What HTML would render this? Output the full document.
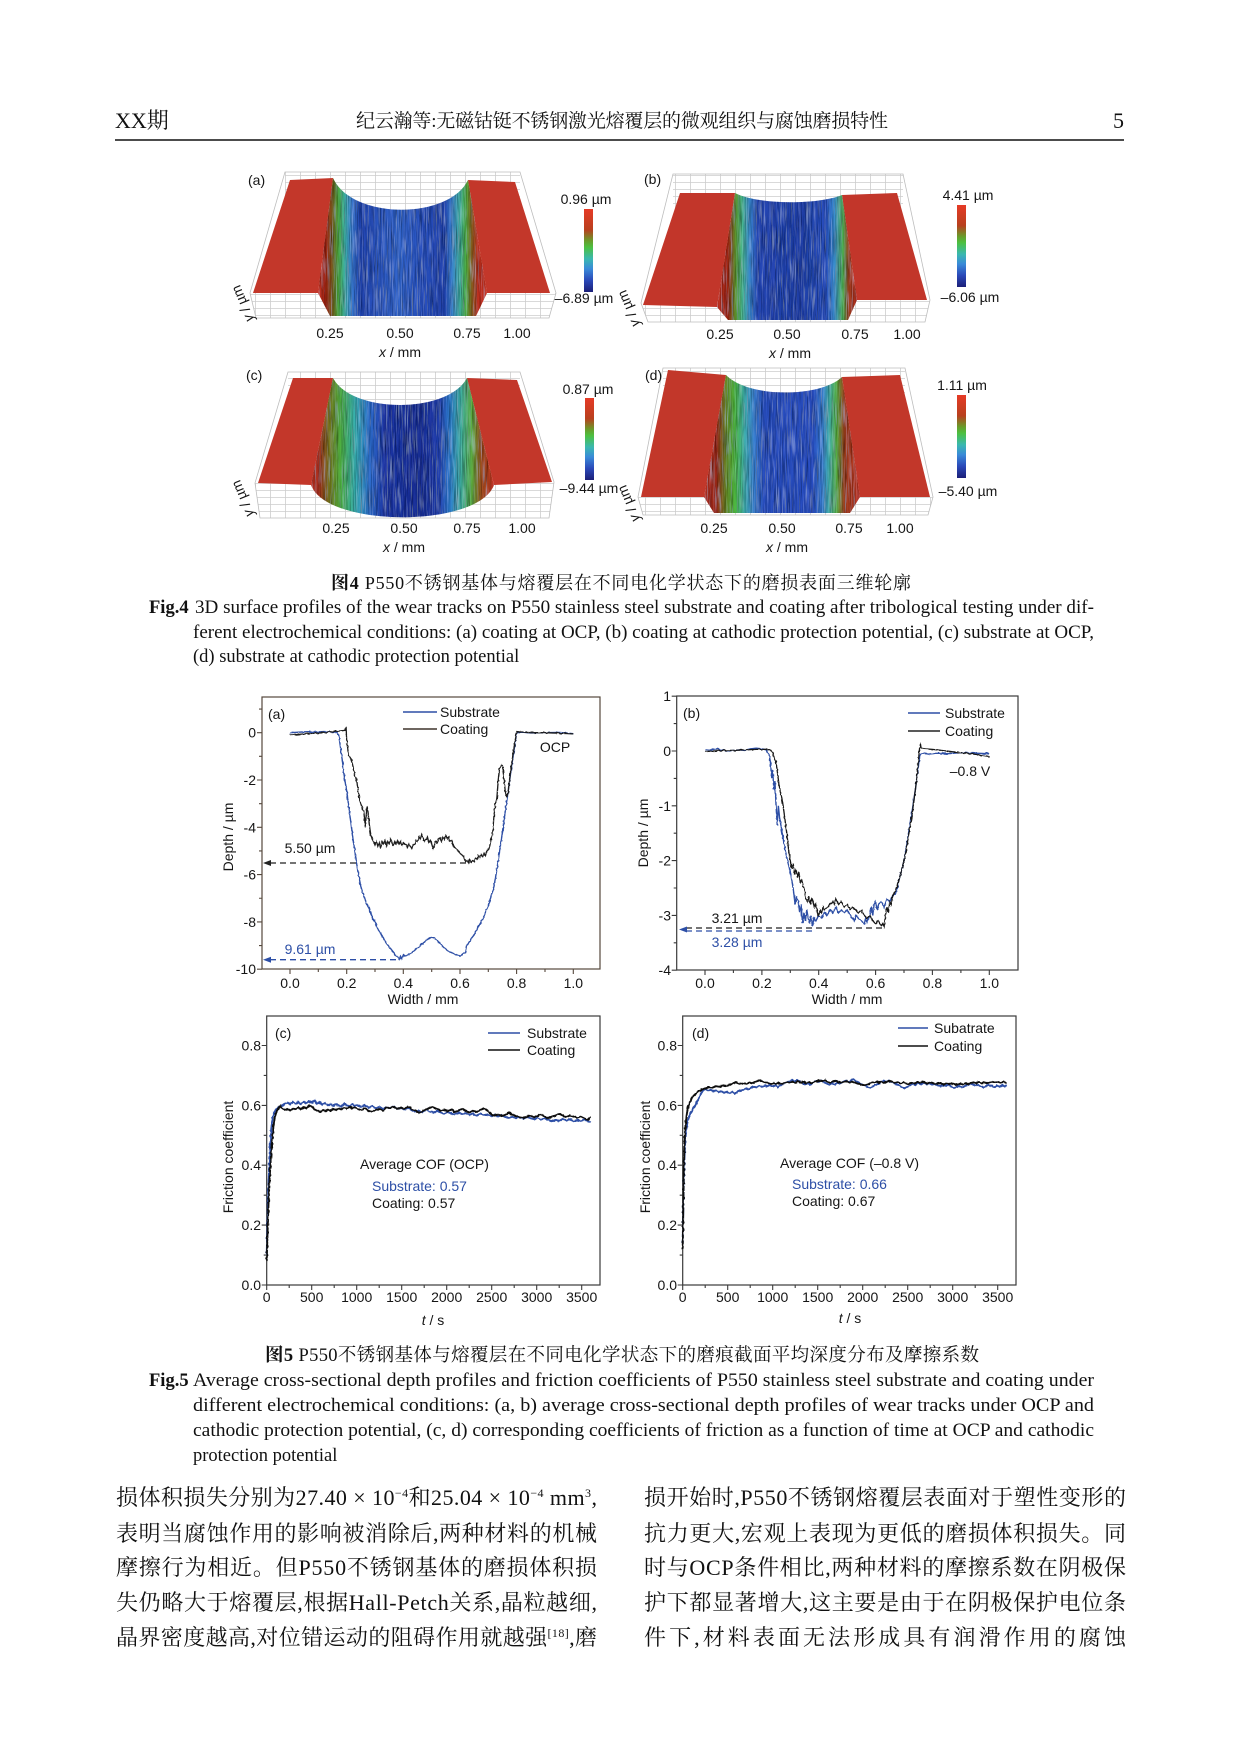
<!DOCTYPE html>
<html lang="zh"><head><meta charset="utf-8"><title>Fig</title>
<style>html,body{margin:0;padding:0;background:#fff}svg{display:block}</style></head>
<body>
<svg xmlns="http://www.w3.org/2000/svg" width="1241" height="1754" viewBox="0 0 1241 1754">
<style>
.s{font-family:"Liberation Sans",Arial,sans-serif;font-size:14px;fill:#151515}
.r{font-family:"Liberation Serif","Noto Serif CJK SC",serif;fill:#111}
.b{fill:#2d4fa6}
</style>
<defs>
<pattern id="grid" patternUnits="userSpaceOnUse" width="15" height="7"><path d="M0 0.5H15M0.5 0V7" stroke="#cdcdcd" stroke-width="0.8" fill="none"/></pattern>
<filter id="tex" x="0" y="0" width="1" height="1">
<feTurbulence type="fractalNoise" baseFrequency="0.8 0.035" numOctaves="2" seed="5" result="n"/>
<feColorMatrix in="n" type="matrix" values="0 0 0 0 0  0 0 0 0 0  0 0 0 0 0  1.5 0 0 0 -0.58" result="d"/>
<feComposite in="d" in2="SourceAlpha" operator="in" result="d2"/>
<feColorMatrix in="n" type="matrix" values="0 0 0 0 0.6  0 0 0 0 0.8  0 0 0 0 1  0 0.9 0 0 -0.47" result="l"/>
<feComposite in="l" in2="SourceAlpha" operator="in" result="l2"/>
<feMerge><feMergeNode in="SourceGraphic"/><feMergeNode in="d2"/><feMergeNode in="l2"/></feMerge>
</filter>
<filter id="jit" x="-3%" y="-15%" width="106%" height="130%"><feTurbulence type="fractalNoise" baseFrequency="0.35" numOctaves="1" seed="7" result="t"/><feDisplacementMap in="SourceGraphic" in2="t" scale="2.4" xChannelSelector="R" yChannelSelector="G"/></filter>
<linearGradient id="cbar" x1="0" y1="0" x2="0" y2="1">
<stop offset="0" stop-color="#e63a26"/><stop offset="0.25" stop-color="#b8401e"/><stop offset="0.38" stop-color="#6a9a2a"/><stop offset="0.46" stop-color="#4cc040"/><stop offset="0.6" stop-color="#3ab8b0"/><stop offset="0.72" stop-color="#3a8ad8"/><stop offset="0.86" stop-color="#2a48b8"/><stop offset="1" stop-color="#1c1f78"/>
</linearGradient>
<linearGradient id="ga" gradientUnits="userSpaceOnUse" x1="318" y1="0" x2="487" y2="0">
<stop offset="0" stop-color="#c43526"/><stop offset="0.047" stop-color="#a02818"/><stop offset="0.083" stop-color="#7a5a20"/><stop offset="0.118" stop-color="#4ca83a"/><stop offset="0.16" stop-color="#3cb0a8"/><stop offset="0.2" stop-color="#3a7ad0"/><stop offset="0.25" stop-color="#2446b4"/><stop offset="0.48" stop-color="#3466cc"/><stop offset="0.6" stop-color="#2a52c0"/><stop offset="0.75" stop-color="#2444b0"/><stop offset="0.79" stop-color="#3a80d0"/><stop offset="0.84" stop-color="#40b0a0"/><stop offset="0.876" stop-color="#50b040"/><stop offset="0.91" stop-color="#8a6020"/><stop offset="0.947" stop-color="#c03020"/><stop offset="1" stop-color="#c43526"/>
</linearGradient>
<linearGradient id="gb" gradientUnits="userSpaceOnUse" x1="717" y1="0" x2="857" y2="0">
<stop offset="0" stop-color="#c43526"/><stop offset="0.08" stop-color="#a02818"/><stop offset="0.135" stop-color="#5a9a30"/><stop offset="0.18" stop-color="#48b890"/><stop offset="0.235" stop-color="#3a88d0"/><stop offset="0.29" stop-color="#2848b8"/><stop offset="0.6" stop-color="#2040a8"/><stop offset="0.78" stop-color="#2a50c0"/><stop offset="0.84" stop-color="#3a90d0"/><stop offset="0.9" stop-color="#50b050"/><stop offset="0.94" stop-color="#a04020"/><stop offset="1" stop-color="#c43526"/>
</linearGradient>
<linearGradient id="gc" gradientUnits="userSpaceOnUse" x1="311" y1="0" x2="494" y2="0">
<stop offset="0" stop-color="#c43526"/><stop offset="0.04" stop-color="#a83020"/><stop offset="0.1" stop-color="#7a7a20"/><stop offset="0.16" stop-color="#50b040"/><stop offset="0.24" stop-color="#38b0b0"/><stop offset="0.32" stop-color="#3070d0"/><stop offset="0.4" stop-color="#2038a8"/><stop offset="0.6" stop-color="#1c3098"/><stop offset="0.7" stop-color="#2440b0"/><stop offset="0.76" stop-color="#3080d0"/><stop offset="0.82" stop-color="#40b0a0"/><stop offset="0.88" stop-color="#60b040"/><stop offset="0.93" stop-color="#a05020"/><stop offset="1" stop-color="#c43526"/>
</linearGradient>
<linearGradient id="gd" gradientUnits="userSpaceOnUse" x1="704" y1="0" x2="860" y2="0">
<stop offset="0" stop-color="#c43526"/><stop offset="0.08" stop-color="#9a2a1c"/><stop offset="0.14" stop-color="#6a8a28"/><stop offset="0.2" stop-color="#4cb840"/><stop offset="0.26" stop-color="#40b0b0"/><stop offset="0.32" stop-color="#3a80d0"/><stop offset="0.38" stop-color="#2a50c0"/><stop offset="0.7" stop-color="#2a50c4"/><stop offset="0.76" stop-color="#3a80d0"/><stop offset="0.8" stop-color="#40b0b0"/><stop offset="0.85" stop-color="#58b040"/><stop offset="0.9" stop-color="#a04020"/><stop offset="1" stop-color="#c43526"/>
</linearGradient>
</defs>
<rect width="1241" height="1754" fill="#fff"/>

<!-- Header -->
<text class="r" x="115" y="128" font-size="22">XX期</text>
<text class="r" x="622" y="127" font-size="19" text-anchor="middle" textLength="532" lengthAdjust="spacing">纪云瀚等:无磁钴铤不锈钢激光熔覆层的微观组织与腐蚀磨损特性</text>
<text class="r" x="1124" y="128" font-size="22" text-anchor="end">5</text>
<line x1="115" y1="140" x2="1124" y2="140" stroke="#111" stroke-width="1.5"/>

<!-- ===== Fig 4 (a) ===== -->
<g>
<rect x="285" y="172" width="235" height="40" fill="url(#grid)"/>
<polygon points="250,293 556,293 549,318 256,318" fill="url(#grid)"/>
<path d="M285 172L520 172L556 293L549 318L256 318L250 293Z" fill="none" stroke="#bdbdbd" stroke-width="0.8"/>
<polygon points="290,180 333,178 318,293 253,293" fill="#c3372a"/>
<polygon points="468,180 515,182 550,293 487,293" fill="#c3372a"/>
<path d="M333,178 C352,220 449,220 468,180 L487,293 L476,316 L330,316 L318,293 Z" fill="url(#ga)" filter="url(#tex)"/>
<rect x="584" y="209" width="9" height="83" fill="url(#cbar)"/>
<text class="s" x="586" y="204" text-anchor="middle">0.96 µm</text>
<text class="s" x="584" y="303" text-anchor="middle">–6.89 µm</text>
<text class="s" x="248" y="185">(a)</text>
<text class="s" x="330" y="338" text-anchor="middle">0.25</text>
<text class="s" x="400" y="338" text-anchor="middle">0.50</text>
<text class="s" x="467" y="338" text-anchor="middle">0.75</text>
<text class="s" x="517" y="338" text-anchor="middle">1.00</text>
<text class="s" x="400" y="357" text-anchor="middle"><tspan font-style="italic">x</tspan> / mm</text>
<text class="s" transform="translate(247,302) rotate(-112)" text-anchor="middle"><tspan font-style="italic">y</tspan> / µm</text>
</g>

<!-- ===== Fig 4 (b) ===== -->
<g>
<rect x="673" y="174" width="230" height="36" fill="url(#grid)"/>
<polygon points="641,303 930,300 925,322 648,322" fill="url(#grid)"/>
<path d="M673 174L903 174L930 300L925 322L648 322L641 303Z" fill="none" stroke="#bdbdbd" stroke-width="0.8"/>
<polygon points="680,193 735,193 717,307 643,305" fill="#c2362a"/>
<polygon points="842,195 897,193 927,300 857,300" fill="#c2362a"/>
<path d="M735,193 C758,205 818,205 842,195 L857,300 L848,320 L728,320 L717,307 Z" fill="url(#gb)" filter="url(#tex)"/>
<rect x="957" y="205" width="9" height="82" fill="url(#cbar)"/>
<text class="s" x="968" y="200" text-anchor="middle">4.41 µm</text>
<text class="s" x="970" y="302" text-anchor="middle">–6.06 µm</text>
<text class="s" x="644" y="184">(b)</text>
<text class="s" x="720" y="339" text-anchor="middle">0.25</text>
<text class="s" x="787" y="339" text-anchor="middle">0.50</text>
<text class="s" x="855" y="339" text-anchor="middle">0.75</text>
<text class="s" x="907" y="339" text-anchor="middle">1.00</text>
<text class="s" x="790" y="358" text-anchor="middle"><tspan font-style="italic">x</tspan> / mm</text>
<text class="s" transform="translate(633,307) rotate(-112)" text-anchor="middle"><tspan font-style="italic">y</tspan> / µm</text>
</g>

<!-- ===== Fig 4 (c) ===== -->
<g>
<rect x="288" y="372" width="232" height="40" fill="url(#grid)"/>
<polygon points="255,483 554,482 549,518 260,518" fill="url(#grid)"/>
<path d="M288 372L520 372L554 482L549 518L260 518L255 483Z" fill="none" stroke="#bdbdbd" stroke-width="0.8"/>
<polygon points="293,378 333,378 311,485 258,483" fill="#c3372a"/>
<polygon points="467,378 517,380 552,482 494,485" fill="#c3372a"/>
<path d="M333,378 C352,414 448,414 467,378 L494,485 C478,528 327,528 311,485 Z" fill="url(#gc)" filter="url(#tex)"/>
<rect x="585" y="398" width="9" height="82" fill="url(#cbar)"/>
<text class="s" x="588" y="394" text-anchor="middle">0.87 µm</text>
<text class="s" x="589" y="493" text-anchor="middle">–9.44 µm</text>
<text class="s" x="246" y="380">(c)</text>
<text class="s" x="336" y="533" text-anchor="middle">0.25</text>
<text class="s" x="404" y="533" text-anchor="middle">0.50</text>
<text class="s" x="467" y="533" text-anchor="middle">0.75</text>
<text class="s" x="522" y="533" text-anchor="middle">1.00</text>
<text class="s" x="404" y="552" text-anchor="middle"><tspan font-style="italic">x</tspan> / mm</text>
<text class="s" transform="translate(247,497) rotate(-112)" text-anchor="middle"><tspan font-style="italic">y</tspan> / µm</text>
</g>

<!-- ===== Fig 4 (d) ===== -->
<g>
<rect x="663" y="368" width="242" height="32" fill="url(#grid)"/>
<polygon points="638,497 933,497 928,515 643,515" fill="url(#grid)"/>
<path d="M663 368L905 368L933 497L928 515L643 515L638 497Z" fill="none" stroke="#bdbdbd" stroke-width="0.8"/>
<polygon points="668,370 726,375 704,497 641,497" fill="#c2372a"/>
<polygon points="842,377 900,375 930,497 860,497" fill="#c2372a"/>
<path d="M726,375 C748,398 820,398 842,377 L860,497 L850,513 L714,513 L704,497 Z" fill="url(#gd)" filter="url(#tex)"/>
<rect x="957" y="395" width="9" height="83" fill="url(#cbar)"/>
<text class="s" x="962" y="390" text-anchor="middle">1.11 µm</text>
<text class="s" x="968" y="496" text-anchor="middle">–5.40 µm</text>
<text class="s" x="645" y="380">(d)</text>
<text class="s" x="714" y="533" text-anchor="middle">0.25</text>
<text class="s" x="782" y="533" text-anchor="middle">0.50</text>
<text class="s" x="849" y="533" text-anchor="middle">0.75</text>
<text class="s" x="900" y="533" text-anchor="middle">1.00</text>
<text class="s" x="787" y="552" text-anchor="middle"><tspan font-style="italic">x</tspan> / mm</text>
<text class="s" transform="translate(633,502) rotate(-112)" text-anchor="middle"><tspan font-style="italic">y</tspan> / µm</text>
</g>

<!-- Fig 4 caption -->
<text class="r" x="621" y="589" font-size="18" text-anchor="middle" textLength="580" lengthAdjust="spacing"><tspan font-weight="bold">图4</tspan> P550不锈钢基体与熔覆层在不同电化学状态下的磨损表面三维轮廓</text>
<text class="r" x="149" y="613" font-size="18.5" font-weight="bold">Fig.4</text>
<text class="r" x="195" y="613" font-size="18.5" textLength="899" lengthAdjust="spacingAndGlyphs">3D surface profiles of the wear tracks on P550 stainless steel substrate and coating after tribological testing under dif-</text>
<text class="r" x="193" y="638" font-size="18.5" textLength="901" lengthAdjust="spacingAndGlyphs">ferent electrochemical conditions: (a) coating at OCP, (b) coating at cathodic protection potential, (c) substrate at OCP,</text>
<text class="r" x="193" y="662" font-size="18.5">(d) substrate at cathodic protection potential</text>

<!-- ===== Fig 5 (a) ===== -->
<g>
<rect x="262" y="697" width="338" height="272" fill="none" stroke="#55483c" stroke-width="1.2"/>
<path d="M257 732.7H262M257 780H262M257 827.3H262M257 874.6H262M257 921.9H262M257 969.2H262M259 709.05H262M259 756.35H262M259 803.65H262M259 850.95H262M259 898.25H262M259 945.55H262M290 969V974M346.7 969V974M403.3 969V974M460 969V974M516.6 969V974M573.3 969V974M318.3 969V972M375 969V972M431.7 969V972M488.3 969V972M545 969V972" stroke="#55483c" stroke-width="1.1" fill="none"/>
<g class="s" text-anchor="end"><text x="256" y="737.7">0</text><text x="256" y="785">-2</text><text x="256" y="832.3">-4</text><text x="256" y="879.6">-6</text><text x="256" y="926.9">-8</text><text x="256" y="974.2">-10</text></g>
<g class="s" text-anchor="middle"><text x="290" y="988">0.0</text><text x="346.7" y="988">0.2</text><text x="403.3" y="988">0.4</text><text x="460" y="988">0.6</text><text x="516.6" y="988">0.8</text><text x="573.3" y="988">1.0</text></g>
<text class="s" x="423" y="1004" text-anchor="middle">Width / mm</text>
<text class="s" transform="translate(233,837) rotate(-90)" text-anchor="middle">Depth / µm</text>
<text class="s" x="268" y="719">(a)</text>
<line x1="403" y1="712" x2="437" y2="712" stroke="#2d4fa6" stroke-width="1.4"/>
<text class="s" x="440" y="717">Substrate</text>
<line x1="403" y1="729" x2="437" y2="729" stroke="#3e342c" stroke-width="1.4"/>
<text class="s" x="440" y="734">Coating</text>
<text class="s" x="555" y="752" text-anchor="middle">OCP</text>
<g filter="url(#jit)">
<polyline transform="translate(290,732.7) scale(283.3,-23.65)" vector-effect="non-scaling-stroke" fill="none" stroke="#2d4fa6" stroke-width="1.4" points="0,0 0.03,0.02 0.06,0.04 0.09,0.03 0.12,0.05 0.15,0.03 0.165,0.02 0.172,-0.1 0.178,-0.6 0.185,-1.2 0.19,-1.7 0.195,-2.1 0.2,-2.45 0.205,-2.9 0.21,-3.4 0.215,-3.8 0.22,-4.3 0.225,-4.7 0.23,-5.1 0.235,-5.5 0.24,-5.9 0.245,-6.2 0.25,-6.5 0.26,-6.9 0.27,-7.2 0.28,-7.45 0.29,-7.8 0.3,-8.0 0.31,-8.3 0.32,-8.5 0.33,-8.7 0.34,-8.9 0.35,-9.05 0.36,-9.2 0.37,-9.35 0.38,-9.5 0.385,-9.6 0.39,-9.45 0.395,-9.55 0.4,-9.4 0.41,-9.45 0.42,-9.35 0.43,-9.3 0.44,-9.2 0.45,-9.1 0.46,-9.0 0.47,-8.9 0.48,-8.8 0.49,-8.7 0.5,-8.65 0.51,-8.7 0.52,-8.8 0.53,-8.9 0.54,-9.05 0.55,-9.15 0.56,-9.25 0.57,-9.3 0.58,-9.35 0.59,-9.4 0.6,-9.45 0.61,-9.35 0.62,-9.3 0.625,-9.0 0.63,-8.9 0.64,-8.7 0.65,-8.55 0.66,-8.3 0.67,-8.1 0.68,-7.9 0.69,-7.6 0.7,-7.3 0.71,-6.9 0.72,-6.5 0.73,-5.8 0.74,-5.0 0.75,-4.2 0.76,-3.3 0.77,-2.5 0.78,-1.6 0.79,-0.8 0.8,0 0.82,0.02 0.85,-0.01 0.9,0 0.95,0.01 1.0,-0.04"/>
<polyline transform="translate(290,732.7) scale(283.3,-23.65)" vector-effect="non-scaling-stroke" fill="none" stroke="#1a1a1a" stroke-width="1.3" points="0,-0.1 0.03,-0.07 0.06,-0.04 0.09,-0.02 0.12,0 0.15,0.05 0.18,0.08 0.195,0.1 0.198,0.25 0.2,-0.3 0.205,-0.8 0.21,-1.0 0.215,-1.1 0.22,-1.3 0.225,-1.6 0.23,-1.85 0.235,-2.0 0.24,-2.4 0.245,-2.8 0.25,-3.0 0.255,-3.2 0.26,-3.3 0.263,-3.6 0.266,-4.0 0.269,-3.5 0.272,-3.1 0.275,-3.3 0.28,-3.9 0.285,-4.3 0.29,-4.5 0.295,-4.6 0.3,-4.75 0.305,-4.6 0.31,-4.8 0.315,-4.65 0.32,-4.9 0.325,-4.6 0.33,-4.7 0.335,-4.55 0.34,-4.8 0.345,-4.6 0.35,-4.7 0.355,-4.5 0.36,-4.65 0.365,-4.75 0.37,-4.6 0.375,-4.7 0.38,-4.55 0.385,-4.7 0.39,-4.6 0.395,-4.75 0.4,-4.65 0.405,-4.7 0.41,-4.75 0.415,-4.85 0.42,-4.7 0.425,-4.8 0.43,-4.9 0.435,-4.75 0.44,-4.7 0.445,-4.55 0.45,-4.6 0.455,-4.4 0.46,-4.5 0.465,-4.3 0.47,-4.45 0.475,-4.6 0.48,-4.5 0.485,-4.4 0.49,-4.65 0.495,-4.55 0.5,-4.7 0.505,-4.9 0.51,-4.75 0.515,-4.6 0.52,-4.65 0.525,-4.5 0.53,-4.45 0.535,-4.6 0.54,-4.4 0.545,-4.5 0.55,-4.35 0.555,-4.5 0.56,-4.4 0.565,-4.6 0.57,-4.55 0.575,-4.7 0.58,-4.85 0.585,-4.9 0.59,-4.95 0.595,-5.0 0.6,-5.1 0.605,-5.15 0.61,-5.2 0.615,-5.3 0.62,-5.45 0.625,-5.4 0.63,-5.5 0.635,-5.35 0.64,-5.5 0.645,-5.4 0.65,-5.45 0.655,-5.3 0.66,-5.35 0.665,-5.2 0.67,-5.3 0.675,-5.15 0.68,-5.25 0.685,-5.1 0.69,-5.2 0.695,-5.0 0.7,-4.95 0.705,-4.8 0.71,-4.5 0.715,-4.3 0.72,-3.5 0.725,-3.0 0.73,-2.8 0.735,-2.0 0.74,-1.5 0.745,-1.35 0.75,-1.4 0.755,-1.9 0.76,-2.5 0.765,-2.75 0.77,-2.5 0.775,-2.0 0.78,-1.5 0.79,-0.7 0.8,0.05 0.82,0.03 0.85,0 0.9,0 0.95,-0.02 1.0,-0.05"/>
</g>
<line x1="270" y1="863" x2="467" y2="863" stroke="#222" stroke-width="1.3" stroke-dasharray="6 4"/>
<polygon points="263,863 271,860 271,866" fill="#222"/>
<text class="s" x="310" y="853" text-anchor="middle">5.50 µm</text>
<line x1="270" y1="959.7" x2="400" y2="959.7" stroke="#2d4fa6" stroke-width="1.3" stroke-dasharray="6 4"/>
<polygon points="263,959.7 271,956.7 271,962.7" fill="#2d4fa6"/>
<text class="s b" x="310" y="954" text-anchor="middle">9.61 µm</text>
</g>

<!-- ===== Fig 5 (b) ===== -->
<g>
<rect x="676.7" y="696" width="341.3" height="274" fill="none" stroke="#3a3a3a" stroke-width="1.2"/>
<path d="M671.7 696.2H676.7M671.7 751H676.7M671.7 805.8H676.7M671.7 860.6H676.7M671.7 915.4H676.7M671.7 970.2H676.7M673.7 723.6H676.7M673.7 778.4H676.7M673.7 833.2H676.7M673.7 888H676.7M673.7 942.8H676.7M705 970V975M761.9 970V975M818.7 970V975M875.6 970V975M932.4 970V975M989.3 970V975M733.4 970V973M790.3 970V973M847.2 970V973M904 970V973M960.9 970V973" stroke="#3a3a3a" stroke-width="1.1" fill="none"/>
<g class="s" text-anchor="end"><text x="671" y="701.2">1</text><text x="671" y="756">0</text><text x="671" y="810.8">-1</text><text x="671" y="865.6">-2</text><text x="671" y="920.4">-3</text><text x="671" y="975.2">-4</text></g>
<g class="s" text-anchor="middle"><text x="705" y="988">0.0</text><text x="761.9" y="988">0.2</text><text x="818.7" y="988">0.4</text><text x="875.6" y="988">0.6</text><text x="932.4" y="988">0.8</text><text x="989.3" y="988">1.0</text></g>
<text class="s" x="847" y="1004" text-anchor="middle">Width / mm</text>
<text class="s" transform="translate(648,833) rotate(-90)" text-anchor="middle">Depth / µm</text>
<text class="s" x="683" y="718">(b)</text>
<line x1="908" y1="713" x2="940" y2="713" stroke="#2d4fa6" stroke-width="1.4"/>
<text class="s" x="945" y="718">Substrate</text>
<line x1="908" y1="731" x2="940" y2="731" stroke="#222" stroke-width="1.4"/>
<text class="s" x="945" y="736">Coating</text>
<text class="s" x="970" y="776" text-anchor="middle">–0.8 V</text>
<g filter="url(#jit)">
<polyline transform="translate(705,751) scale(284.3,-54.8)" vector-effect="non-scaling-stroke" fill="none" stroke="#2d4fa6" stroke-width="1.4" points="0,0.03 0.02,0.02 0.04,0.04 0.06,0.02 0.08,0 0.1,0.01 0.12,0.02 0.14,0.01 0.16,0.04 0.18,0.05 0.2,0.04 0.215,0.02 0.225,-0.05 0.23,-0.2 0.235,-0.5 0.238,-0.35 0.242,-0.7 0.246,-0.55 0.25,-1.0 0.254,-1.35 0.258,-1.0 0.262,-1.2 0.27,-1.45 0.28,-1.75 0.29,-2.0 0.3,-2.2 0.31,-2.5 0.317,-2.8 0.322,-2.65 0.328,-2.75 0.333,-2.95 0.338,-2.8 0.343,-3.15 0.348,-2.95 0.353,-3.1 0.358,-2.9 0.363,-3.05 0.368,-3.15 0.373,-3.0 0.378,-3.2 0.383,-3.05 0.39,-3.1 0.4,-3.0 0.41,-3.05 0.42,-2.95 0.43,-3.0 0.44,-2.9 0.45,-2.95 0.46,-2.85 0.47,-2.95 0.48,-2.9 0.49,-2.95 0.5,-2.9 0.51,-3.0 0.52,-3.05 0.525,-3.1 0.53,-3.0 0.54,-3.05 0.55,-3.1 0.56,-3.15 0.565,-3.05 0.57,-3.12 0.58,-3.0 0.585,-2.85 0.59,-3.0 0.595,-2.8 0.6,-2.75 0.605,-2.9 0.61,-2.8 0.62,-2.75 0.63,-2.85 0.64,-2.7 0.65,-2.75 0.66,-2.65 0.67,-2.6 0.675,-2.55 0.68,-2.4 0.69,-2.2 0.7,-2.0 0.71,-1.7 0.72,-1.35 0.73,-1.05 0.74,-0.7 0.745,-0.5 0.75,-0.3 0.755,-0.1 0.76,-0.05 0.77,-0.03 0.78,-0.06 0.8,-0.05 0.82,-0.04 0.85,-0.05 0.9,-0.03 0.95,-0.04 1.0,-0.05"/>
<polyline transform="translate(705,751) scale(284.3,-54.8)" vector-effect="non-scaling-stroke" fill="none" stroke="#151515" stroke-width="1.3" points="0,-0.01 0.03,0 0.06,0.01 0.1,0.01 0.14,0.02 0.18,0.03 0.21,0.03 0.23,0.02 0.24,-0.05 0.245,-0.15 0.25,-0.2 0.255,-0.4 0.26,-0.6 0.265,-0.75 0.27,-0.85 0.275,-1.0 0.28,-1.2 0.285,-1.4 0.29,-1.6 0.295,-1.85 0.3,-2.0 0.305,-2.15 0.31,-2.05 0.315,-2.25 0.32,-2.15 0.325,-2.3 0.33,-2.2 0.335,-2.4 0.34,-2.35 0.345,-2.45 0.35,-2.55 0.355,-2.7 0.36,-2.75 0.365,-2.65 0.37,-2.8 0.375,-2.7 0.38,-2.75 0.385,-2.85 0.39,-2.8 0.395,-2.95 0.4,-3.0 0.405,-2.9 0.41,-2.95 0.415,-2.85 0.42,-2.9 0.43,-2.85 0.44,-2.8 0.45,-2.75 0.455,-2.8 0.46,-2.7 0.465,-2.75 0.47,-2.8 0.48,-2.75 0.49,-2.85 0.5,-2.8 0.51,-2.9 0.52,-2.85 0.53,-2.9 0.54,-2.95 0.55,-2.9 0.56,-3.0 0.57,-3.05 0.58,-3.0 0.59,-3.1 0.6,-3.15 0.61,-3.1 0.62,-3.2 0.625,-3.15 0.63,-3.2 0.635,-3.0 0.64,-2.85 0.645,-2.95 0.65,-2.75 0.655,-2.8 0.66,-2.65 0.67,-2.55 0.68,-2.4 0.69,-2.2 0.7,-2.0 0.71,-1.75 0.72,-1.4 0.73,-1.1 0.74,-0.7 0.745,-0.5 0.75,-0.2 0.755,0.05 0.758,0.12 0.762,0.05 0.77,0.04 0.8,0.03 0.85,0 0.9,-0.03 0.95,-0.06 1.0,-0.1"/>
</g>
<line x1="686" y1="928" x2="885" y2="928" stroke="#222" stroke-width="1.3" stroke-dasharray="6 4"/>
<line x1="686" y1="931" x2="813" y2="931" stroke="#2d4fa6" stroke-width="1.3" stroke-dasharray="6 4"/>
<polygon points="679,929.5 687,926.5 687,932.5" fill="#2d4fa6"/>
<text class="s" x="737" y="923" text-anchor="middle">3.21 µm</text>
<text class="s b" x="737" y="947" text-anchor="middle">3.28 µm</text>
</g>

<!-- ===== Fig 5 (c) ===== -->
<g>
<rect x="266.7" y="1016" width="333.3" height="269" fill="none" stroke="#3a3a3a" stroke-width="1.2"/>
<path d="M261.7 1285H266.7M261.7 1225.1H266.7M261.7 1165.2H266.7M261.7 1105.4H266.7M261.7 1045.5H266.7M263.7 1255.1H266.7M263.7 1195.2H266.7M263.7 1135.3H266.7M263.7 1075.4H266.7M266.7 1285V1290M311.7 1285V1290M356.7 1285V1290M401.7 1285V1290M446.7 1285V1290M491.7 1285V1290M536.7 1285V1290M581.7 1285V1290M289.2 1285V1288M334.2 1285V1288M379.2 1285V1288M424.2 1285V1288M469.2 1285V1288M514.2 1285V1288M559.2 1285V1288" stroke="#3a3a3a" stroke-width="1.1" fill="none"/>
<g class="s" text-anchor="end"><text x="261" y="1290">0.0</text><text x="261" y="1230.1">0.2</text><text x="261" y="1170.2">0.4</text><text x="261" y="1110.4">0.6</text><text x="261" y="1050.5">0.8</text></g>
<g class="s" text-anchor="middle"><text x="266.7" y="1302">0</text><text x="311.7" y="1302">500</text><text x="356.7" y="1302">1000</text><text x="401.7" y="1302">1500</text><text x="446.7" y="1302">2000</text><text x="491.7" y="1302">2500</text><text x="536.7" y="1302">3000</text><text x="581.7" y="1302">3500</text></g>
<text class="s" x="433" y="1325" text-anchor="middle"><tspan font-style="italic">t</tspan> / s</text>
<text class="s" transform="translate(233,1157) rotate(-90)" text-anchor="middle">Friction coefficient</text>
<text class="s" x="275" y="1038">(c)</text>
<line x1="488" y1="1033" x2="520" y2="1033" stroke="#2d4fa6" stroke-width="1.4"/>
<text class="s" x="527" y="1038">Substrate</text>
<line x1="488" y1="1050" x2="520" y2="1050" stroke="#111" stroke-width="1.4"/>
<text class="s" x="527" y="1055">Coating</text>
<text class="s" x="360" y="1169">Average  COF (OCP)</text>
<text class="s b" x="372" y="1191">Substrate: 0.57</text>
<text class="s" x="372" y="1208">Coating: 0.57</text>
<g filter="url(#jit)">
<polyline transform="translate(266.7,1285) scale(0.09,-299.4)" vector-effect="non-scaling-stroke" fill="none" stroke="#2d4fa6" stroke-width="1.9" points="0,0.1 8,0.2 16,0.3 25,0.37 35,0.45 50,0.52 65,0.56 80,0.575 100,0.585 120,0.59 150,0.597 180,0.6 200,0.605 230,0.61 260,0.603 290,0.612 320,0.606 350,0.61 380,0.604 410,0.612 440,0.607 470,0.614 500,0.609 530,0.616 560,0.605 590,0.61 620,0.603 650,0.608 680,0.6 710,0.605 740,0.598 770,0.604 800,0.6 830,0.596 860,0.606 890,0.6 920,0.597 950,0.603 980,0.598 1010,0.602 1050,0.595 1090,0.6 1130,0.592 1170,0.598 1210,0.59 1250,0.596 1290,0.588 1330,0.594 1370,0.59 1410,0.596 1450,0.588 1490,0.592 1530,0.586 1570,0.59 1610,0.584 1650,0.578 1690,0.583 1730,0.577 1770,0.585 1810,0.58 1850,0.575 1890,0.582 1930,0.576 1970,0.572 2010,0.578 2050,0.573 2090,0.57 2130,0.576 2170,0.571 2210,0.574 2250,0.568 2290,0.573 2330,0.566 2370,0.571 2410,0.567 2450,0.57 2490,0.564 2530,0.568 2570,0.563 2610,0.567 2650,0.561 2690,0.558 2730,0.562 2770,0.557 2810,0.56 2850,0.556 2890,0.561 2930,0.557 2970,0.554 3010,0.558 3050,0.553 3090,0.557 3130,0.551 3170,0.546 3210,0.552 3250,0.548 3290,0.555 3330,0.55 3370,0.553 3410,0.547 3450,0.551 3490,0.548 3530,0.552 3570,0.546 3600,0.545"/>
<polyline transform="translate(266.7,1285) scale(0.09,-299.4)" vector-effect="non-scaling-stroke" fill="none" stroke="#111" stroke-width="1.9" points="0,0.08 10,0.18 20,0.27 30,0.34 45,0.42 60,0.48 75,0.53 90,0.56 110,0.58 130,0.59 150,0.597 170,0.59 200,0.585 230,0.588 260,0.583 290,0.59 320,0.586 350,0.592 380,0.588 410,0.594 440,0.589 470,0.6 500,0.596 530,0.588 560,0.582 590,0.578 620,0.584 650,0.58 680,0.586 710,0.581 740,0.588 770,0.584 800,0.59 830,0.586 860,0.593 890,0.588 920,0.595 950,0.59 980,0.594 1010,0.588 1050,0.584 1090,0.59 1130,0.582 1170,0.578 1210,0.585 1250,0.588 1290,0.582 1330,0.594 1370,0.59 1410,0.595 1450,0.588 1490,0.593 1530,0.588 1570,0.596 1610,0.588 1650,0.583 1690,0.575 1730,0.58 1770,0.586 1810,0.592 1850,0.594 1890,0.588 1930,0.582 1970,0.586 2010,0.58 2050,0.585 2090,0.578 2130,0.583 2170,0.588 2210,0.581 2250,0.576 2290,0.582 2330,0.578 2370,0.584 2410,0.59 2450,0.582 2490,0.572 2530,0.566 2570,0.57 2610,0.564 2650,0.568 2690,0.575 2730,0.57 2770,0.564 2810,0.56 2850,0.558 2890,0.562 2930,0.566 2970,0.56 3010,0.565 3050,0.57 3090,0.562 3130,0.558 3170,0.563 3210,0.566 3250,0.572 3290,0.566 3330,0.561 3370,0.566 3410,0.562 3450,0.558 3490,0.562 3530,0.556 3570,0.552 3600,0.562"/>
</g>
</g>

<!-- ===== Fig 5 (d) ===== -->
<g>
<rect x="682.7" y="1016" width="333.3" height="269" fill="none" stroke="#3a3a3a" stroke-width="1.2"/>
<path d="M677.7 1285H682.7M677.7 1225.1H682.7M677.7 1165.2H682.7M677.7 1105.4H682.7M677.7 1045.5H682.7M679.7 1255.1H682.7M679.7 1195.2H682.7M679.7 1135.3H682.7M679.7 1075.4H682.7M682.7 1285V1290M727.7 1285V1290M772.7 1285V1290M817.7 1285V1290M862.7 1285V1290M907.7 1285V1290M952.7 1285V1290M997.7 1285V1290M705.2 1285V1288M750.2 1285V1288M795.2 1285V1288M840.2 1285V1288M885.2 1285V1288M930.2 1285V1288M975.2 1285V1288" stroke="#3a3a3a" stroke-width="1.1" fill="none"/>
<g class="s" text-anchor="end"><text x="677" y="1290">0.0</text><text x="677" y="1230.1">0.2</text><text x="677" y="1170.2">0.4</text><text x="677" y="1110.4">0.6</text><text x="677" y="1050.5">0.8</text></g>
<g class="s" text-anchor="middle"><text x="682.7" y="1302">0</text><text x="727.7" y="1302">500</text><text x="772.7" y="1302">1000</text><text x="817.7" y="1302">1500</text><text x="862.7" y="1302">2000</text><text x="907.7" y="1302">2500</text><text x="952.7" y="1302">3000</text><text x="997.7" y="1302">3500</text></g>
<text class="s" x="850" y="1323" text-anchor="middle"><tspan font-style="italic">t</tspan> / s</text>
<text class="s" transform="translate(650,1157) rotate(-90)" text-anchor="middle">Friction coefficient</text>
<text class="s" x="692" y="1038">(d)</text>
<line x1="898" y1="1028" x2="928" y2="1028" stroke="#2d4fa6" stroke-width="1.4"/>
<text class="s" x="934" y="1033">Subatrate</text>
<line x1="898" y1="1046" x2="928" y2="1046" stroke="#111" stroke-width="1.4"/>
<text class="s" x="934" y="1051">Coating</text>
<text class="s" x="780" y="1168">Average COF (–0.8 V)</text>
<text class="s b" x="792" y="1189">Substrate: 0.66</text>
<text class="s" x="792" y="1206">Coating: 0.67</text>
<g filter="url(#jit)">
<polyline transform="translate(682.7,1285) scale(0.09,-299.4)" vector-effect="non-scaling-stroke" fill="none" stroke="#2d4fa6" stroke-width="1.9" points="0,0.14 6,0.25 12,0.35 20,0.43 30,0.49 45,0.53 60,0.555 80,0.57 100,0.58 120,0.592 140,0.6 160,0.612 180,0.625 200,0.638 220,0.648 250,0.655 280,0.65 310,0.652 340,0.648 370,0.65 400,0.645 430,0.647 460,0.642 490,0.646 520,0.641 550,0.644 580,0.64 610,0.645 640,0.649 670,0.652 700,0.656 730,0.654 760,0.659 790,0.662 820,0.66 850,0.665 880,0.662 910,0.667 940,0.664 970,0.668 1000,0.663 1030,0.667 1060,0.661 1090,0.668 1120,0.672 1150,0.676 1180,0.68 1210,0.684 1240,0.681 1270,0.685 1300,0.679 1330,0.675 1360,0.67 1390,0.673 1420,0.669 1450,0.676 1480,0.681 1510,0.678 1540,0.683 1570,0.677 1600,0.673 1630,0.669 1660,0.674 1690,0.67 1720,0.676 1750,0.672 1780,0.678 1810,0.682 1840,0.679 1870,0.684 1900,0.688 1930,0.68 1960,0.676 1990,0.67 2020,0.666 2050,0.662 2080,0.659 2110,0.663 2140,0.667 2170,0.672 2200,0.677 2230,0.681 2260,0.679 2290,0.683 2320,0.678 2350,0.674 2380,0.669 2410,0.665 2440,0.661 2470,0.658 2500,0.662 2530,0.667 2560,0.671 2590,0.669 2620,0.674 2650,0.67 2680,0.676 2710,0.671 2740,0.674 2770,0.669 2800,0.672 2830,0.667 2860,0.664 2890,0.668 2920,0.665 2950,0.67 2980,0.664 3010,0.658 3040,0.662 3070,0.665 3100,0.66 3130,0.664 3160,0.668 3190,0.673 3220,0.67 3250,0.666 3280,0.668 3310,0.663 3340,0.66 3370,0.664 3400,0.669 3430,0.665 3460,0.661 3490,0.666 3520,0.662 3550,0.668 3580,0.664 3600,0.667"/>
<polyline transform="translate(682.7,1285) scale(0.09,-299.4)" vector-effect="non-scaling-stroke" fill="none" stroke="#111" stroke-width="1.9" points="0,0.12 6,0.25 12,0.38 20,0.47 30,0.53 45,0.57 60,0.595 80,0.612 100,0.625 120,0.632 150,0.64 180,0.648 210,0.652 250,0.657 290,0.661 330,0.659 370,0.664 410,0.662 450,0.667 490,0.665 530,0.669 560,0.674 590,0.678 620,0.673 650,0.671 680,0.674 710,0.672 740,0.676 770,0.674 800,0.678 830,0.681 860,0.684 890,0.68 920,0.676 950,0.674 980,0.671 1010,0.674 1040,0.672 1070,0.675 1100,0.671 1130,0.674 1160,0.677 1190,0.675 1220,0.679 1250,0.676 1280,0.68 1310,0.676 1340,0.678 1370,0.675 1400,0.677 1430,0.674 1460,0.678 1490,0.68 1520,0.683 1550,0.681 1580,0.684 1610,0.679 1640,0.676 1670,0.679 1700,0.682 1730,0.678 1760,0.675 1790,0.678 1820,0.681 1850,0.677 1880,0.679 1910,0.676 1940,0.673 1970,0.671 2000,0.668 2030,0.667 2060,0.671 2090,0.674 2120,0.676 2150,0.679 2180,0.676 2210,0.678 2240,0.675 2270,0.679 2300,0.682 2330,0.678 2360,0.675 2390,0.677 2420,0.673 2450,0.676 2480,0.673 2510,0.671 2540,0.675 2570,0.673 2600,0.677 2630,0.675 2660,0.678 2690,0.676 2720,0.673 2750,0.677 2780,0.674 2810,0.672 2840,0.675 2870,0.673 2900,0.67 2930,0.673 2960,0.671 2990,0.674 3020,0.671 3050,0.668 3080,0.672 3110,0.67 3140,0.674 3170,0.671 3200,0.675 3230,0.677 3260,0.674 3290,0.678 3320,0.675 3350,0.677 3380,0.674 3410,0.677 3440,0.679 3470,0.676 3500,0.679 3530,0.676 3560,0.678 3600,0.675"/>
</g>
</g>

<!-- Fig 5 caption -->
<text class="r" x="622" y="1361" font-size="18.5" text-anchor="middle" textLength="714" lengthAdjust="spacing"><tspan font-weight="bold">图5</tspan> P550不锈钢基体与熔覆层在不同电化学状态下的磨痕截面平均深度分布及摩擦系数</text>
<text class="r" x="149" y="1386" font-size="18.5" font-weight="bold">Fig.5</text>
<text class="r" x="193" y="1386" font-size="18.5" textLength="901" lengthAdjust="spacingAndGlyphs">Average cross-sectional depth profiles and friction coefficients of P550 stainless steel substrate and coating under</text>
<text class="r" x="193" y="1411" font-size="18.5" textLength="901" lengthAdjust="spacingAndGlyphs">different electrochemical conditions: (a, b) average cross-sectional depth profiles of wear tracks under OCP and</text>
<text class="r" x="193" y="1436" font-size="18.5" textLength="901" lengthAdjust="spacingAndGlyphs">cathodic protection potential, (c, d) corresponding coefficients of friction as a function of time at OCP and cathodic</text>
<text class="r" x="193" y="1461" font-size="18.5">protection potential</text>

<!-- Body text left column -->
<g class="r" font-size="22">
<text x="116" y="1505" textLength="481" lengthAdjust="spacing">损体积损失分别为27.40 × 10<tspan dy="-8" font-size="12">−4</tspan><tspan dy="8">和25.04 × 10</tspan><tspan dy="-8" font-size="12">−4</tspan><tspan dy="8"> mm</tspan><tspan dy="-8" font-size="12">3</tspan><tspan dy="8">,</tspan></text>
<text x="116" y="1541" textLength="481" lengthAdjust="spacing">表明当腐蚀作用的影响被消除后,两种材料的机械</text>
<text x="116" y="1575" textLength="481" lengthAdjust="spacing">摩擦行为相近。但P550不锈钢基体的磨损体积损</text>
<text x="116" y="1610" textLength="481" lengthAdjust="spacing">失仍略大于熔覆层,根据Hall-Petch关系,晶粒越细,</text>
<text x="116" y="1645" textLength="481" lengthAdjust="spacing">晶界密度越高,对位错运动的阻碍作用就越强<tspan dy="-8" font-size="12">[18]</tspan><tspan dy="8">,磨</tspan></text>
<!-- right column -->
<text x="644" y="1505" textLength="482" lengthAdjust="spacing">损开始时,P550不锈钢熔覆层表面对于塑性变形的</text>
<text x="644" y="1541" textLength="482" lengthAdjust="spacing">抗力更大,宏观上表现为更低的磨损体积损失。同</text>
<text x="644" y="1575" textLength="482" lengthAdjust="spacing">时与OCP条件相比,两种材料的摩擦系数在阴极保</text>
<text x="644" y="1610" textLength="482" lengthAdjust="spacing">护下都显著增大,这主要是由于在阴极保护电位条</text>
<text x="644" y="1645" textLength="482" lengthAdjust="spacing">件下,材料表面无法形成具有润滑作用的腐蚀</text>
</g>
</svg>
</body></html>
